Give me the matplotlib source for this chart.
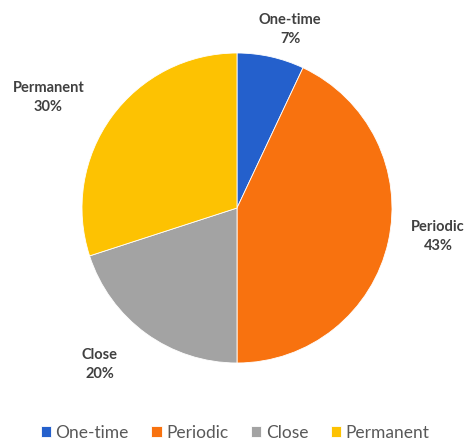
import numpy as np
import matplotlib.pyplot as plt

plt.rcParams['font.family'] = ['Lato', 'DejaVu Sans']

categories = ['One-time', 'Periodic', 'Close', 'Permanent']
shares = [7, 43, 20, 30]
colors = ['#2460cc', '#f8720f', '#a3a3a3', '#fdc202']

# label placement: distance in pie radii and angle nudge in degrees
label_dist = [1.2, 1.31, 1.34, 1.41]
label_turn = [-4, 4.4, -5.3, 5.6]

fig = plt.figure(figsize=(4.70, 4.43), dpi=100)
ax = fig.add_axes([82 / 470, 80 / 443, 310 / 470, 310 / 443])

wedges, _ = ax.pie(shares, colors=colors, startangle=90, counterclock=False,
                   wedgeprops={'linewidth': 0.6, 'edgecolor': 'white'})
ax.set_xlim(-1, 1)
ax.set_ylim(-1, 1)
ax.set_aspect('equal')
ax.axis('off')

for w, name, val, d, t in zip(wedges, categories, shares, label_dist, label_turn):
    ang = np.deg2rad((w.theta1 + w.theta2) / 2 + t)
    ax.text(d * np.cos(ang), d * np.sin(ang), f"{name}\n{val}%",
            ha='center', va='center', fontsize=10.5, fontweight='bold',
            color='#404040', linespacing=1.45, clip_on=False)

fig.legend(wedges, categories, loc='lower center', ncol=4,
           bbox_to_anchor=(0.5, -0.03), frameon=False, fontsize=12.5,
           labelcolor='#595959', handlelength=0.6, handleheight=0.6,
           handletextpad=0.25, columnspacing=1.3)

plt.savefig('out.png')
